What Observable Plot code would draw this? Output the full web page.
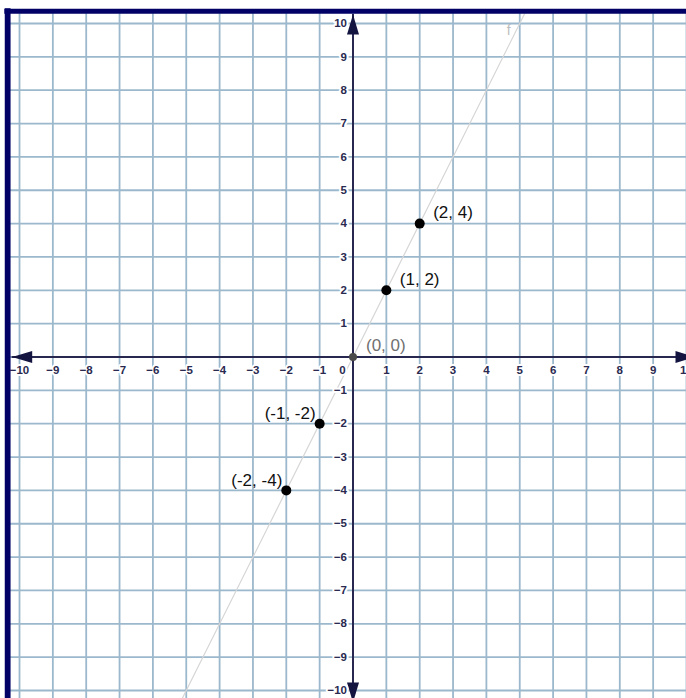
<!DOCTYPE html>
<html>
<head>
<meta charset="utf-8">
<script src="https://cdn.jsdelivr.net/npm/d3@7"></script>
<script src="https://cdn.jsdelivr.net/npm/@observablehq/plot@0.6"></script>
<style>
  html, body { margin: 0; padding: 0; background: #fff; overflow: hidden; }
  #chart svg { display: block; }
</style>
</head>
<body>
<div id="chart"></div>
<script>
// ---- data ----
const gridValues = [-10,-9,-8,-7,-6,-5,-4,-3,-2,-1,0,1,2,3,4,5,6,7,8,9,10];
const xTickValues = [-10,-9,-8,-7,-6,-5,-4,-3,-2,-1,1,2,3,4,5,6,7,8,9,10];
const yTickValues = [-10,-9,-8,-7,-6,-5,-4,-3,-2,-1,1,2,3,4,5,6,7,8,9,10];
const zeroLabel = "0";

const pointX = [-2, -1, 1, 2];
const pointY = [-4, -2, 2, 4];
const pointLabels = ["(-2, -4)", "(-1, -2)", "(1, 2)", "(2, 4)"];

const originX = [0];
const originY = [0];
const originLabels = ["(0, 0)"];

// line f : y = 2x, drawn between its two visible ends
const lineFX = [-5.12, 5.145];
const lineFY = [-10.24, 10.29];
const lineFLabel = "f";

// extents of the drawing beyond the [-10, 10] window (data units)
const gridLow = -10.3, gridHighY = 10.29, gridLowX = -10.27, gridHighX = 10.2;
const axisLeft = -10.22, axisRight = 10.27, axisTop = 10.27, axisBottom = -10.36;
const borderLeftX = -10.355, borderTopY = 10.365, borderOuterX = -10.44, borderOuterY = 10.44;

// ---- tables built from the arrays ----
const points = pointX.map((x, i) => ({x, y: pointY[i], label: pointLabels[i]}));
const origin = originX.map((x, i) => ({x, y: originY[i], label: originLabels[i]}));
const lineF = lineFX.map((x, i) => ({x, y: lineFY[i]}));
const arrows = [
  {x: axisLeft, y: 0, rotate: -90},
  {x: axisRight, y: 0, rotate: 90},
  {x: 0, y: axisTop, rotate: 0},
  {x: 0, y: axisBottom, rotate: 180}
];

// ---- styles ----
const gridColor = "#9cb8cc";
const axisColor = "#27274f";
const borderColor = "#000066";
const tickColor = "#2a2a50";
const font = "'Liberation Sans', Arial, Helvetica, sans-serif";
const fmt = d => d < 0 ? "\u2212" + Math.abs(d) : String(d);

// filled arrowhead, tip at the anchor, pointing up before rotation
const arrowHead = {
  draw(ctx) {
    ctx.moveTo(0, 0);
    ctx.lineTo(6, 20);
    ctx.lineTo(-6, 20);
    ctx.closePath();
  }
};

const chart = Plot.plot({
  width: 686,
  height: 698,
  marginLeft: 19,
  marginRight: 0,
  marginTop: 23,
  marginBottom: 8,
  x: {domain: [-10, 10], axis: null},
  y: {domain: [-10, 10], axis: null},
  style: {fontFamily: font, background: "white"},
  marks: [
    // grid
    Plot.ruleX(gridValues, {x: d => d, y1: gridLow, y2: gridHighY, stroke: gridColor, strokeWidth: 1.8}),
    Plot.ruleY(gridValues, {y: d => d, x1: gridLowX, x2: gridHighX, stroke: gridColor, strokeWidth: 1.8}),
    // function line f
    Plot.line(lineF, {x: "x", y: "y", stroke: "#d6d6d6", strokeWidth: 1.2}),
    Plot.text([lineFLabel], {x: () => lineFX[1], y: () => lineFY[1], text: d => d, dx: -16, dy: 17,
      fill: "#bdbdbd", fontSize: 14, fontFamily: font}),
    // axes
    Plot.ruleY([0], {x1: axisLeft, x2: axisRight, stroke: axisColor, strokeWidth: 2}),
    Plot.ruleX([0], {y1: axisBottom, y2: axisTop, stroke: axisColor, strokeWidth: 2}),
    Plot.dot(arrows, {x: "x", y: "y", rotate: "rotate", symbol: arrowHead, r: 6, fill: "#141440", stroke: "none"}),
    // tick labels
    Plot.text(xTickValues, {x: d => d, y: 0, text: fmt, dy: 13.5, fill: tickColor, fontSize: 11.5, fontWeight: "bold",
      fontFamily: font, stroke: "white", strokeWidth: 4, paintOrder: "stroke"}),
    Plot.text(yTickValues, {x: 0, y: d => d, text: fmt, dx: -6, textAnchor: "end", fill: tickColor, fontSize: 11.5,
      fontWeight: "bold", fontFamily: font, stroke: "white", strokeWidth: 4, paintOrder: "stroke"}),
    Plot.text([zeroLabel], {x: 0, y: 0, text: d => d, dx: -10.5, dy: 13.5, fill: tickColor, fontSize: 11.5,
      fontWeight: "bold", fontFamily: font, stroke: "white", strokeWidth: 4, paintOrder: "stroke"}),
    // points
    Plot.dot(origin, {x: "x", y: "y", r: 4, fill: "#4a4a4a", stroke: "none"}),
    Plot.dot(points, {x: "x", y: "y", r: 5, fill: "#000", stroke: "none"}),
    Plot.text(origin, {x: "x", y: "y", text: "label", dx: 13, dy: -11, textAnchor: "start",
      fill: "#707070", fontSize: 17, fontFamily: font}),
    Plot.text(points.filter(d => d.x > 0), {x: "x", y: "y", text: "label", dx: 13.5, dy: -11, textAnchor: "start",
      fill: "#111", fontSize: 17, fontFamily: font}),
    Plot.text(points.filter(d => d.x < 0), {x: "x", y: "y", text: "label", dx: -4, dy: -10, textAnchor: "end",
      fill: "#111", fontSize: 17, fontFamily: font}),
    // frame border (left and top)
    Plot.ruleX([borderLeftX], {x: d => d, y1: -10.6, y2: borderOuterY, stroke: borderColor, strokeWidth: 5.8}),
    Plot.ruleY([borderTopY], {y: d => d, x1: borderOuterX, x2: 10.6, stroke: borderColor, strokeWidth: 5})
  ]
});

document.getElementById("chart").appendChild(chart);
</script>
</body>
</html>
